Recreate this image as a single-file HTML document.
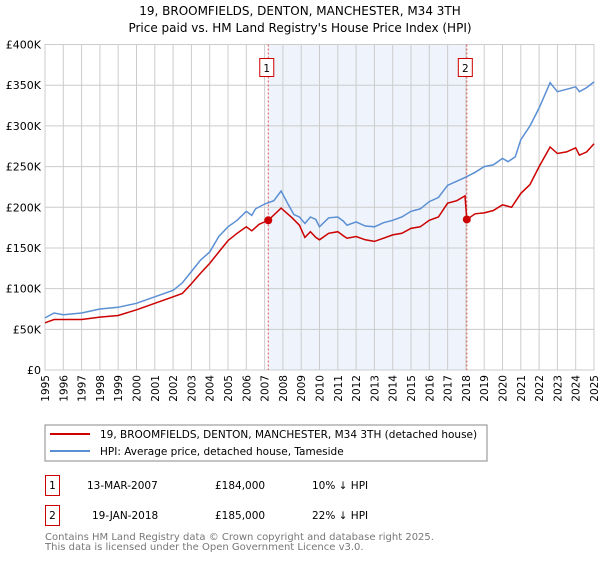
<!DOCTYPE html>
<html><head><meta charset="utf-8"><style>
body{margin:0;background:#fff;font-family:"DejaVu Sans","Liberation Sans",sans-serif;}
svg text{font-family:"DejaVu Sans","Liberation Sans",sans-serif;}
</style></head><body>
<svg id="c" width="600" height="560" xmlns="http://www.w3.org/2000/svg">
<text x="300" y="15" text-anchor="middle" font-size="12">19, BROOMFIELDS, DENTON, MANCHESTER, M34 3TH</text>
<text x="300" y="32" text-anchor="middle" font-size="12">Price paid vs. HM Land Registry's House Price Index (HPI)</text>
<g id="plot"></g>
<rect x="45" y="425" width="442" height="36" fill="#fff" stroke="#888"/>
<line x1="50" y1="434" x2="90" y2="434" stroke="#cc0000" stroke-width="2"/>
<text x="100" y="438" font-size="10.5">19, BROOMFIELDS, DENTON, MANCHESTER, M34 3TH (detached house)</text>
<line x1="50" y1="451" x2="90" y2="451" stroke="#5b8fd4" stroke-width="2"/>
<text x="100" y="455" font-size="10.5">HPI: Average price, detached house, Tameside</text>
<rect x="45.5" y="475.5" width="14" height="20" fill="none" stroke="#cc0000"/>
<text x="52.5" y="489" text-anchor="middle" font-size="10.5">1</text>
<text x="87" y="489" font-size="10.5">13-MAR-2007</text>
<text x="215" y="489" font-size="10.5">£184,000</text>
<text x="312" y="489" font-size="10.5">10% ↓ HPI</text>
<rect x="45.5" y="505.5" width="14" height="20" fill="none" stroke="#cc0000"/>
<text x="52.5" y="519" text-anchor="middle" font-size="10.5">2</text>
<text x="92" y="519" font-size="10.5">19-JAN-2018</text>
<text x="215" y="519" font-size="10.5">£185,000</text>
<text x="312" y="519" font-size="10.5">22% ↓ HPI</text>
<text x="45" y="540" font-size="10" fill="#777">Contains HM Land Registry data © Crown copyright and database right 2025.</text>
<text x="45" y="550" font-size="10" fill="#777">This data is licensed under the Open Government Licence v3.0.</text>
</svg>
<script>
const yTicks=[0,50000,100000,150000,200000,250000,300000,350000,400000];
const yTickLabels=["£0","£50K","£100K","£150K","£200K","£250K","£300K","£350K","£400K"];
const years=[1995,1996,1997,1998,1999,2000,2001,2002,2003,2004,2005,2006,2007,2008,2009,2010,2011,2012,2013,2014,2015,2016,2017,2018,2019,2020,2021,2022,2023,2024,2025];
const hpiDates=[1995,1995.5,1996,1997,1998,1999,2000,2001,2002,2002.5,2003,2003.5,2004,2004.5,2005,2005.5,2006,2006.3,2006.5,2007,2007.5,2007.9,2008.3,2008.6,2008.9,2009.2,2009.5,2009.8,2010,2010.5,2011,2011.3,2011.5,2012,2012.5,2013,2013.5,2014,2014.5,2015,2015.5,2016,2016.5,2017,2017.5,2018,2018.5,2019,2019.5,2020,2020.3,2020.7,2021,2021.5,2022,2022.6,2023,2023.5,2024,2024.2,2024.6,2025];
const hpiValues=[64000,70000,68000,70000,75000,77000,82000,90000,98000,107000,121000,135000,145000,164000,176000,184000,195000,190000,198000,204000,208000,220000,203000,191000,188000,180000,188000,185000,176000,187000,188000,183000,178000,182000,177000,176000,181000,184000,188000,195000,198000,207000,212000,227000,232000,237000,243000,250000,252000,260000,256000,262000,283000,300000,322000,353000,342000,345000,348000,342000,347000,354000];
const ppDates=[1995,1995.5,1996,1997,1998,1999,2000,2001,2002,2002.5,2003,2003.5,2004,2004.5,2005,2005.5,2006,2006.3,2006.7,2007.2,2007.9,2008.5,2008.9,2009.2,2009.5,2009.8,2010,2010.5,2011,2011.3,2011.5,2012,2012.5,2013,2013.5,2014,2014.5,2015,2015.5,2016,2016.5,2017,2017.5,2017.95,2018.05,2018.5,2019,2019.5,2020,2020.5,2021,2021.5,2022,2022.6,2023,2023.5,2024,2024.2,2024.6,2025];
const ppValues=[58000,62000,62000,62000,65000,67000,74000,82000,90000,94000,106000,119000,131000,145000,159000,168000,176000,171000,179000,184000,199000,187000,178000,163000,170000,163000,160000,168000,170000,165000,162000,164000,160000,158000,162000,166000,168000,174000,176000,184000,188000,205000,208000,214000,185000,192000,193000,196000,203000,200000,217000,228000,250000,274000,266000,268000,273000,264000,268000,278000];
const sales=[{n:"1",d:2007.2,v:184000},{n:"2",d:2018.05,v:185000}];
const X0=45,X1=594,Y0=370,Y1=44.5;
const x=d=>X0+(d-1995)/30*(X1-X0);
const y=v=>Y0-v/400000*(Y0-Y1);
const NS="http://www.w3.org/2000/svg";
const g=document.getElementById('plot');
function el(t,a){const e=document.createElementNS(NS,t);for(const k in a)e.setAttribute(k,a[k]);g.appendChild(e);return e;}
let sh=el('rect',{x:x(sales[0].d),y:Y1,width:x(sales[1].d)-x(sales[0].d),height:Y0-Y1,fill:'#eef3fc'});


years.forEach(yr=>{const l=el('line',{x1:x(yr),x2:x(yr),y1:Y1,y2:Y0,stroke:'#ccc'});


const t=el('text',{x:0,y:0,'font-size':'10.5','text-anchor':'end',transform:`translate(${x(yr)+4},${Y0+5}) rotate(-90)`});t.textContent=yr;

});
yTicks.forEach((v,i)=>{const l=el('line',{x1:X0,x2:X1,y1:y(v),y2:y(v),stroke:'#ccc'});


const t=el('text',{x:X0-4,y:y(v)+4,'font-size':'11','text-anchor':'end'});t.textContent=yTickLabels[i];

});
let ax=el('rect',{x:X0,y:Y1,width:X1-X0,height:Y0-Y1,fill:'none',stroke:'#ccc'});


sales.forEach(s=>{const l=el('line',{x1:x(s.d),x2:x(s.d),y1:Y1,y2:Y0,stroke:'#e05050','stroke-dasharray':'2,2'});


const r=el('rect',{x:x(s.d)-8.5,y:58.5,width:14,height:18,fill:'#fff',stroke:'#cc0000'});


const t=el('text',{x:x(s.d)-1.5,y:72,'font-size':'10.5','text-anchor':'middle'});t.textContent=s.n;});
const path=(ds,vs)=>ds.map((d,i)=>(i?'L':'M')+x(d).toFixed(1)+','+y(vs[i]).toFixed(1)).join('');
let hp=el('path',{d:path(hpiDates,hpiValues),fill:'none',stroke:'#5b8fd4','stroke-width':1.5});


let pp=el('path',{d:path(ppDates,ppValues),fill:'none',stroke:'#cc0000','stroke-width':1.5});


sales.forEach(s=>{const c=el('circle',{cx:x(s.d),cy:y(s.v),r:4,fill:'#cc0000'});

});
</script>
</body></html>
